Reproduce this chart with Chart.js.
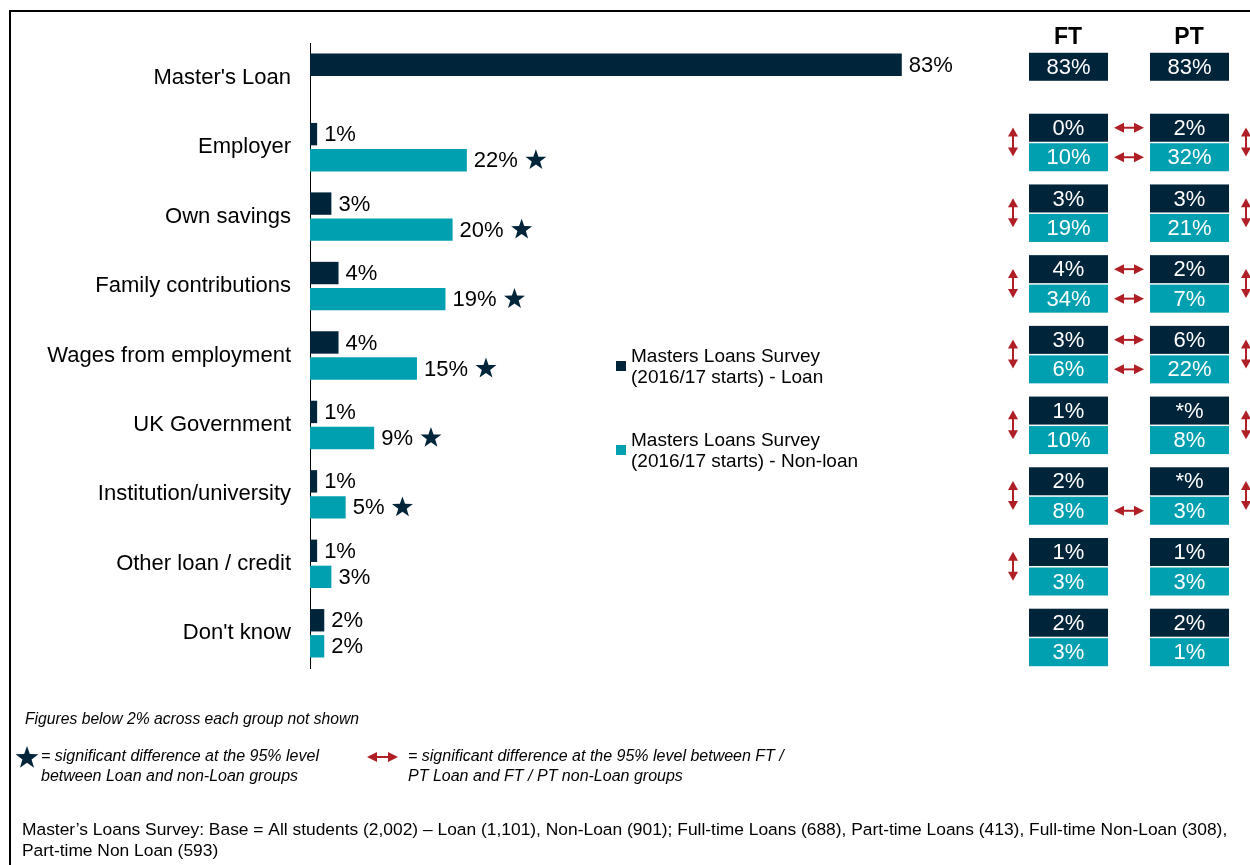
<!DOCTYPE html>
<html>
<head>
<meta charset="utf-8">
<script src="https://cdn.jsdelivr.net/npm/chart.js@4.4.1/dist/chart.umd.min.js"></script>
<style>
    html, body { margin: 0; padding: 0; background: #fff; }
    #wrap { position: relative; width: 1250px; height: 865px; }
</style>
</head>
<body>
<div id="wrap"><canvas id="fundChart" width="1250" height="865"></canvas></div>
<script>
// categories (funding sources)
const categories = ["Master's Loan", 'Employer', 'Own savings', 'Family contributions', 'Wages from employment',
    'UK Government', 'Institution/university', 'Other loan / credit', "Don't know"]
// all students, % using each source
const loanValues = [83, 1, 3, 4, 4, 1, 1, 1, 2]
const nonLoanValues = [null, 22, 20, 19, 15, 9, 5, 3, 2]
// star = sig. difference between loan and non-loan
const starFlags = [0, 1, 1, 1, 1, 1, 1, 0, 0]

// FT / PT side tables ('*' = under 0.5%)
const ftLoan = ['83', '0', '3', '4', '3', '1', '2', '1', '2']
const ftNonLoan = [null, '10', '19', '34', '6', '10', '8', '3', '3']
const ptLoan = ['83', '2', '3', '2', '6', '*', '*', '1', '2']
const ptNonLoan = [null, '32', '21', '7', '22', '8', '3', '3', '1']
// arrows in the side tables
const ftVertArrow = [0, 1, 1, 1, 1, 1, 1, 1, 0]
const ptVertArrow = [0, 1, 1, 1, 1, 1, 1, 0, 0]
const loanHorizArrow = [0, 1, 0, 1, 1, 0, 0, 0, 0]
const nonLoanHorizArrow = [0, 1, 0, 1, 1, 0, 1, 0, 0]

const seriesNames = [['Masters Loans Survey', '(2016/17 starts) - Loan'], ['Masters Loans Survey', '(2016/17 starts) - Non-loan']]

const NAVY = '#00243a'
const TEAL = '#00a0b0'
const RED = '#b01f26'
const FONT = '"Liberation Sans", Arial, sans-serif'

function drawStar(ctx, cx, cy, r) {
    ctx.beginPath()
    for (let k = 0; k < 10; k++) {
        const rad = k % 2 == 0 ? r : r * 0.4
        const a = -Math.PI / 2 + k * Math.PI / 5
        ctx.lineTo(cx + rad * Math.cos(a), cy + rad * Math.sin(a))
    }
    ctx.closePath()
    ctx.fillStyle = NAVY
    ctx.fill()
}

function hArrow(ctx, x1, x2, y) {
    ctx.fillStyle = RED
    ctx.strokeStyle = RED
    ctx.lineWidth = 2
    ctx.beginPath(); ctx.moveTo(x1 + 6, y); ctx.lineTo(x2 - 6, y); ctx.stroke()
    ctx.beginPath(); ctx.moveTo(x1, y); ctx.lineTo(x1 + 10, y - 5); ctx.lineTo(x1 + 10, y + 5); ctx.closePath(); ctx.fill()
    ctx.beginPath(); ctx.moveTo(x2, y); ctx.lineTo(x2 - 10, y - 5); ctx.lineTo(x2 - 10, y + 5); ctx.closePath(); ctx.fill()
}

function vArrow(ctx, x, y1, y2) {
    ctx.fillStyle = RED
    ctx.strokeStyle = RED
    ctx.lineWidth = 2
    ctx.beginPath(); ctx.moveTo(x, y1 + 6); ctx.lineTo(x, y2 - 6); ctx.stroke()
    ctx.beginPath(); ctx.moveTo(x, y1); ctx.lineTo(x - 5, y1 + 9); ctx.lineTo(x + 5, y1 + 9); ctx.closePath(); ctx.fill()
    ctx.beginPath(); ctx.moveTo(x, y2); ctx.lineTo(x - 5, y2 - 9); ctx.lineTo(x + 5, y2 - 9); ctx.closePath(); ctx.fill()
}

const extras = {
    id: 'extras',
    afterDatasetsDraw(chart) {
        const ctx = chart.ctx
        ctx.save()
        // value labels + stars
        ctx.font = '22px ' + FONT
        ctx.textBaseline = 'middle'
        ctx.textAlign = 'left'
        chart.data.datasets.forEach((ds, d) => {
            const meta = chart.getDatasetMeta(d)
            meta.data.forEach((bar, i) => {
                const v = ds.data[i]
                if (v == null) return
                const txt = v + '%'
                ctx.fillStyle = '#000'
                ctx.fillText(txt, bar.x + 7, bar.y + 1)
                if (d == 1 && starFlags[i]) {
                    const w = ctx.measureText(txt).width
                    drawStar(ctx, bar.x + 7 + w + 18, bar.y, 11)
                }
            })
        })

        // side tables: rows spread over the y axis, a bit wider pitch than the bars
        const y = chart.scales.y
        const rowPx = i => y.top + (i + 0.407) * (y.bottom - y.top) / 8.839
        const cols = [{x: 1029, loan: ftLoan, non: ftNonLoan}, {x: 1150, loan: ptLoan, non: ptNonLoan}]
        ctx.font = 'bold 23px ' + FONT
        ctx.textAlign = 'center'
        ctx.fillStyle = '#000'
        ctx.fillText('FT', 1068, 38)
        ctx.fillText('PT', 1189, 38)
        ctx.font = '22px ' + FONT
        for (let i = 0; i < categories.length; i++) {
            const c = rowPx(i)
            cols.forEach(col => {
                const single = col.non[i] == null
                const top = single ? c - 19 : c - 28.75
                ctx.fillStyle = NAVY
                ctx.fillRect(col.x, top, 79, 28)
                ctx.fillStyle = '#fff'
                ctx.fillText(col.loan[i] + '%', col.x + 39.5, top + 15)
                if (!single) {
                    ctx.fillStyle = TEAL
                    ctx.fillRect(col.x, c + 0.75, 79, 28)
                    ctx.fillStyle = '#fff'
                    ctx.fillText(col.non[i] + '%', col.x + 39.5, c + 15.75)
                }
            })
            if (ftVertArrow[i]) vArrow(ctx, 1013, c - 15, c + 14)
            if (ptVertArrow[i]) vArrow(ctx, 1246, c - 15, c + 14)
            if (loanHorizArrow[i]) hArrow(ctx, 1114, 1144, c - 14.75)
            if (nonLoanHorizArrow[i]) hArrow(ctx, 1114, 1144, c + 14.75)
        }

        // legend
        ctx.textAlign = 'left'
        ctx.font = '19px ' + FONT
        const legTop = [357, 441]
        chart.data.datasets.forEach((ds, d) => {
            ctx.fillStyle = ds.backgroundColor
            ctx.fillRect(616, legTop[d] + 4, 10, 10)
            ctx.fillStyle = '#000'
            seriesNames[d].forEach((ln, k) => ctx.fillText(ln, 631, legTop[d] + k * 21))
        })

        // footnotes
        ctx.fillStyle = '#000'
        ctx.font = 'italic 15.7px ' + FONT
        ctx.fillText('Figures below 2% across each group not shown', 25, 720)
        drawStar(ctx, 27, 758, 12)
        hArrow(ctx, 367, 398, 757)
        ctx.fillStyle = '#000'
        ctx.font = 'italic 16px ' + FONT
        ctx.fillText('= significant difference at the 95% level', 41, 757)
        ctx.fillText('between Loan and non-Loan groups', 41, 777)
        ctx.fillText('= significant difference at the 95% level between FT /', 408, 757)
        ctx.fillText('PT Loan and FT / PT non-Loan groups', 408, 777)
        ctx.font = '17.4px ' + FONT
        ctx.fillText("Master\u2019s Loans Survey: Base = All students (2,002) \u2013 Loan (1,101), Non-Loan (901); Full-time Loans (688), Part-time Loans (413), Full-time Non-Loan (308),", 22, 830)
        ctx.fillText('Part-time Non Loan (593)', 22, 851)

        // frame
        ctx.strokeStyle = '#000'
        ctx.lineWidth = 2
        ctx.beginPath()
        ctx.moveTo(10, 866); ctx.lineTo(10, 11); ctx.lineTo(1251, 11)
        ctx.stroke()
        ctx.restore()
    }
}

new Chart(document.getElementById('fundChart'), {
    type: 'bar',
    data: {
        labels: categories,
        datasets: [
            {label: seriesNames[0].join(' '), data: loanValues, backgroundColor: NAVY, borderWidth: 0, categoryPercentage: 0.75, barPercentage: 0.86},
            {label: seriesNames[1].join(' '), data: nonLoanValues, backgroundColor: TEAL, borderWidth: 0, categoryPercentage: 0.75, barPercentage: 0.86}
        ]
    },
    options: {
        indexAxis: 'y',
        responsive: false,
        animation: false,
        devicePixelRatio: 1,
        layout: {padding: {left: 10, right: 227, top: 43, bottom: 197}},
        plugins: {legend: {display: false}, tooltip: {enabled: false}},
        scales: {
            x: {display: false, min: 0, max: 100},
            y: {
                grid: {display: false, drawTicks: false},
                border: {display: true, color: '#000', width: 1},
                ticks: {color: '#000', font: {family: FONT, size: 22}, padding: 19},
                afterFit(scale) { scale.width = 300 }
            }
        }
    },
    plugins: [extras]
})
</script>
</body>
</html>
